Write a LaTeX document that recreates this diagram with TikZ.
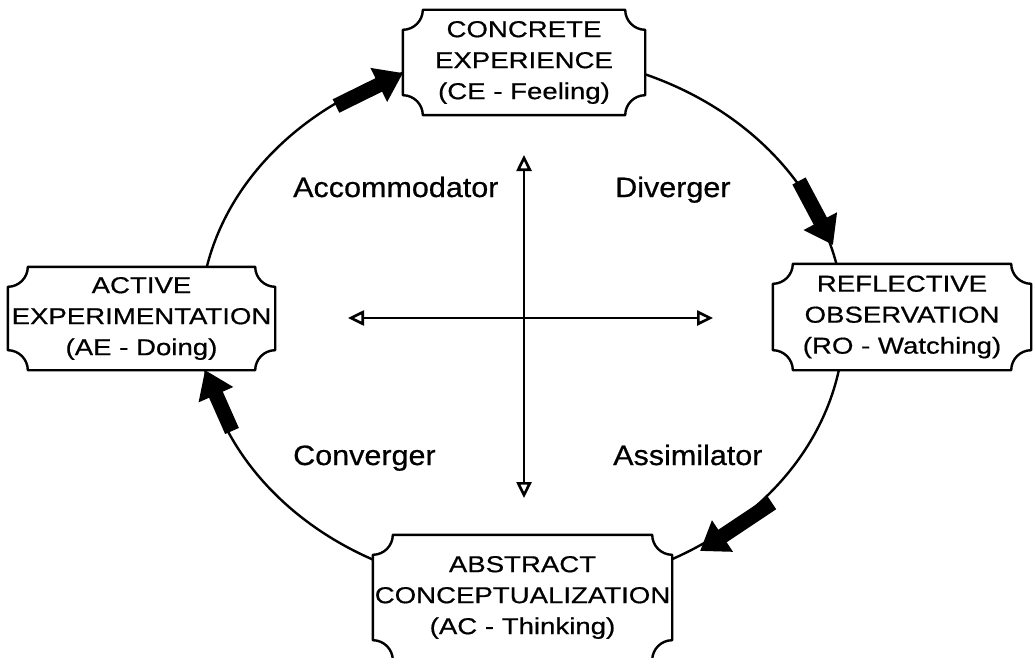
\documentclass[tikz,border=0pt]{standalone}
\usepackage{fontspec}
\setmainfont{Liberation Sans}
\newfontfamily\boxfontfam{Liberation Sans}[FakeStretch=1.2,FakeBold=0.6]
\newfontfamily\labelfontfam{Liberation Sans}[FakeStretch=1.09,FakeBold=0.6]
\usetikzlibrary{arrows.meta,calc}
\def\pqr{20pt}
\def\pqk{11pt}
\newcommand\plaqueoutline[1]{%
 \draw[plaqueline] ($(#1.north west)+(0pt,-\pqr)$) .. controls +(\pqk,0pt) and +(0pt,-\pqk) .. ($(#1.north west)+(\pqr,0pt)$)
 -- ($(#1.north east)+(-\pqr,0pt)$) .. controls +(0pt,-\pqk) and +(-\pqk,0pt) .. ($(#1.north east)+(0pt,-\pqr)$)
 -- ($(#1.south east)+(0pt,\pqr)$) .. controls +(-\pqk,0pt) and +(0pt,\pqk) .. ($(#1.south east)+(-\pqr,0pt)$)
 -- ($(#1.south west)+(\pqr,0pt)$) .. controls +(0pt,\pqk) and +(\pqk,0pt) .. ($(#1.south west)+(0pt,\pqr)$) -- cycle;}
\begin{document}
\begin{tikzpicture}[x=1pt,y=-1pt,
  boxtext/.style={fill=white, inner sep=0pt, align=center, font=\boxfontfam\fontsize{23}{31}\selectfont},
  plaqueline/.style={draw=black, line width=2.4pt, line join=round},
  cycleline/.style={line width=2.4pt},
  bigarrow/.style={line width=15pt, -{Triangle[length=27pt 0 0, width=36pt 0 0]}},
  axisline/.style={line width=2.4pt, {Triangle[fill=white, length=16pt 0 0, width=15pt 0 0, line width=2.6pt]}-{Triangle[fill=white, length=16pt 0 0, width=15pt 0 0, line width=2.6pt]}},
  lbl/.style={font=\labelfontfam\fontsize{28}{34}\selectfont, anchor=base west, inner sep=0pt}]
\useasboundingbox (0,0) rectangle (1033,658);
\fill[white] (0,0) rectangle (1033,658);
% cycle
\draw[cycleline] (522,322) ellipse [x radius=322pt, y radius=268pt];
% boxes
\node[boxtext, minimum width=242pt, minimum height=105pt] (ce) at (524,62.5) {CONCRETE\\EXPERIENCE\\(CE - Feeling)};
\node[boxtext, minimum width=258pt, minimum height=106pt] (ro) at (902,317) {REFLECTIVE\\OBSERVATION\\(RO - Watching)};
\node[boxtext, minimum width=267pt, minimum height=103pt] (ae) at (141.5,318.5) {ACTIVE\\EXPERIMENTATION\\(AE - Doing)};
\node[boxtext, minimum width=299pt, minimum height=125pt] (ac) at (522.5,597.5) {ABSTRACT\\CONCEPTUALIZATION\\(AC - Thinking)};
\plaqueoutline{ce}
\plaqueoutline{ro}
\plaqueoutline{ae}
\plaqueoutline{ac}
% axes
\coordinate (vt) at (524,155);
\coordinate (vb) at (524,498);
\coordinate (hl) at (348,318);
\coordinate (hr) at (713,318);
\draw[axisline] (vt) -- (vb);
\draw[axisline] (hl) -- (hr);
% labels
\node[lbl] (acc) at (293,197) {Accommodator};
\node[lbl] (div) at (615,197) {Diverger};
\node[lbl] (conv) at (293,465) {Converger};
\node[lbl] (assim) at (613,465) {Assimilator};
% block arrows on the cycle
\coordinate (a1t) at (336,106); \coordinate (a1h) at (403,73);
\coordinate (a2t) at (799,181); \coordinate (a2h) at (833,245);
\coordinate (a3t) at (772,503); \coordinate (a3h) at (700,551);
\coordinate (a4t) at (232,431); \coordinate (a4h) at (205,370);
\draw[bigarrow] (a1t) -- (a1h);
\draw[bigarrow] (a2t) -- (a2h);
\draw[bigarrow] (a3t) -- (a3h);
\draw[bigarrow] (a4t) -- (a4h);
\end{tikzpicture}
\end{document}
